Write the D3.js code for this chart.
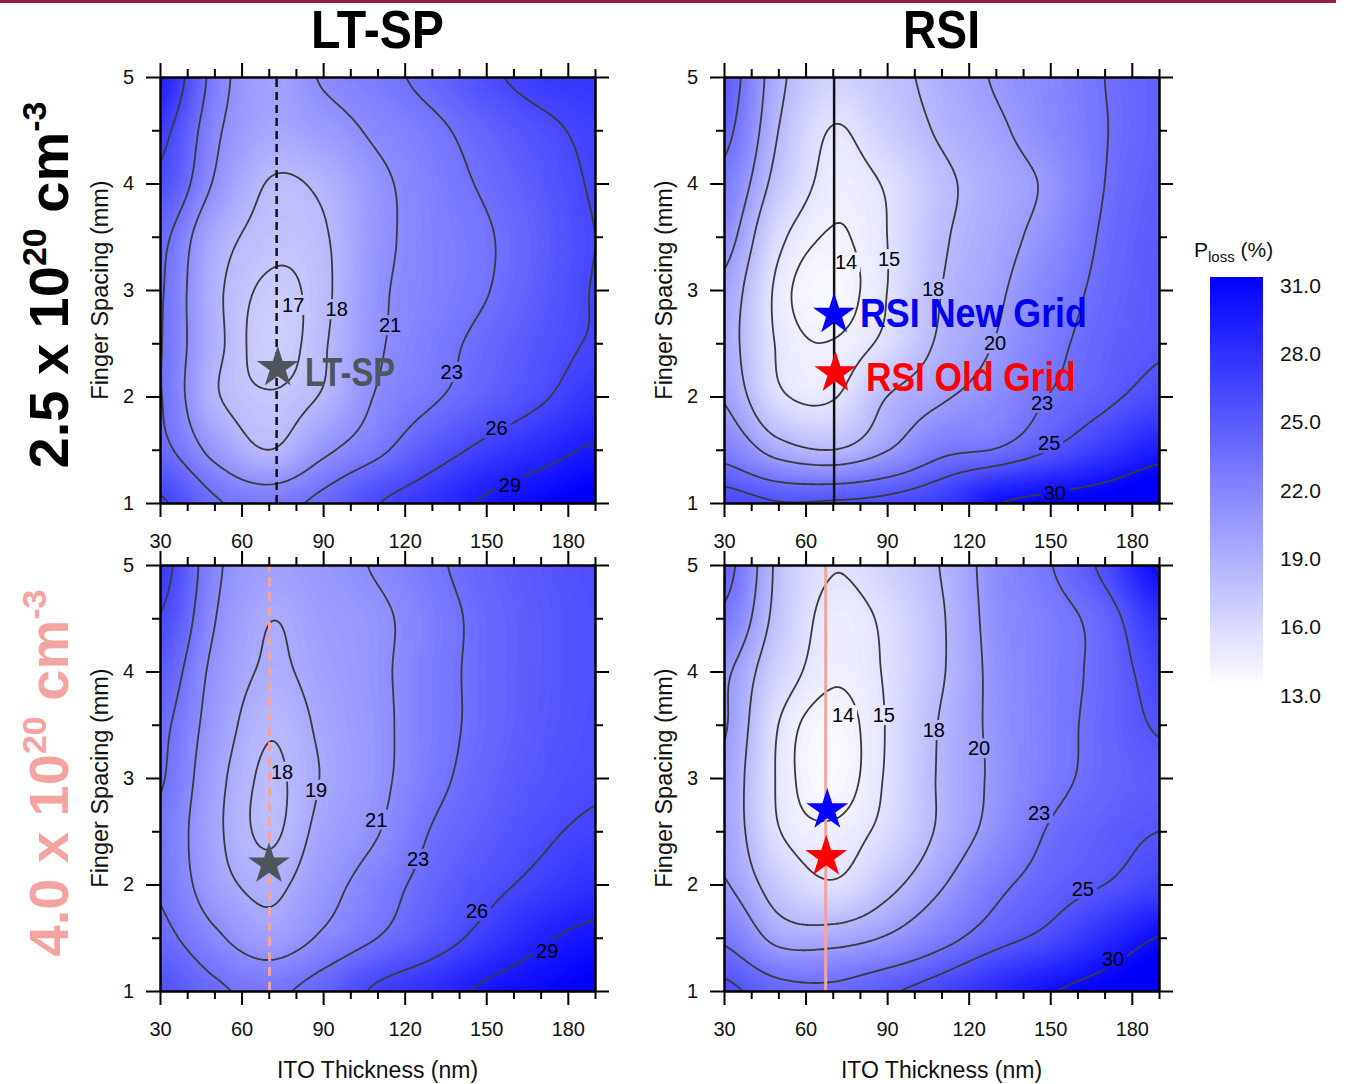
<!DOCTYPE html>
<html>
<head>
<meta charset="utf-8">
<script src="https://cdn.jsdelivr.net/npm/d3@7"></script>
<style>
  body { margin: 0; background: #fff; }
  text { font-family: "Liberation Sans", Arial, sans-serif; }
</style>
</head>
<body>
<svg id="chart" width="1347" height="1084"></svg>
<script>
const itoGrid = [30, 50, 70, 90, 110, 130, 150, 170, 190];
const spacingGrid = [5, 4.5, 4, 3.5, 3, 2.5, 2, 1.5, 1];

// P_loss (%) : one row per spacingGrid value, one column per itoGrid value
const lossLtsp25 = [
  [28.8, 22.2, 19.6, 21.2, 22.3, 23.7, 25.5, 26.8, 27.2],
  [26.8, 21.5, 19.3, 20.0, 21.4, 22.5, 24.0, 25.4, 26.5],
  [25.5, 20.8, 17.9, 18.4, 20.5, 22.0, 23.3, 24.7, 26.2],
  [23.6, 19.1, 17.4, 17.8, 20.4, 21.8, 22.8, 24.3, 26.0],
  [23.2, 18.5, 16.8, 17.6, 20.6, 21.8, 22.9, 24.5, 26.1],
  [23.1, 18.6, 16.5, 17.8, 20.7, 22.2, 23.6, 25.0, 26.2],
  [23.1, 18.3, 17.1, 18.2, 21.2, 22.7, 24.2, 25.7, 27.3],
  [23.6, 20.3, 18.0, 20.5, 22.5, 24.8, 26.6, 28.0, 29.3],
  [26.3, 23.3, 22.3, 23.6, 25.9, 27.5, 29.3, 30.5, 31.5]
];
const lossRsi25 = [
  [24.5, 18.6, 16.2, 17.3, 18.7, 20.2, 21.5, 23.0, 24.2],
  [23.7, 18.0, 14.9, 16.5, 18.3, 19.6, 21.2, 22.9, 24.2],
  [22.3, 17.1, 14.4, 15.2, 17.5, 19.0, 20.4, 23.0, 24.4],
  [21.0, 15.5, 13.9, 15.0, 17.7, 19.2, 20.9, 23.3, 24.6],
  [19.5, 14.6, 13.5, 15.0, 18.0, 19.6, 21.7, 23.6, 24.7],
  [19.0, 14.8, 14.05, 15.5, 18.4, 20.1, 22.3, 24.0, 24.8],
  [19.8, 15.4, 14.85, 18.0, 19.7, 21.1, 23.1, 24.5, 25.8],
  [22.0, 19.0, 18.0, 19.9, 22.4, 23.1, 25.0, 27.0, 29.0],
  [26.0, 25.1, 25.2, 25.6, 26.8, 29.8, 30.8, 31.5, 32.5]
];
const lossLtsp40 = [
  [27.0, 21.5, 19.8, 20.3, 21.2, 22.6, 23.9, 24.8, 25.6],
  [25.9, 21.1, 19.05, 19.9, 20.6, 22.1, 23.6, 24.6, 25.4],
  [24.5, 20.5, 18.8, 19.6, 20.6, 22.2, 23.6, 24.6, 25.4],
  [23.5, 20.1, 18.15, 19.3, 20.5, 22.2, 23.6, 24.7, 25.5],
  [23.2, 19.6, 17.8, 19.1, 20.5, 22.4, 23.9, 25.0, 25.7],
  [22.6, 19.4, 17.8, 19.5, 20.9, 23.1, 24.4, 25.6, 26.4],
  [22.8, 19.8, 18.6, 20.2, 22.0, 23.8, 25.3, 26.6, 27.6],
  [23.6, 21.4, 19.8, 21.3, 23.0, 24.8, 26.8, 28.6, 29.7],
  [25.3, 23.4, 22.6, 24.0, 26.4, 27.8, 29.4, 30.3, 31.3]
];
const lossRsi40 = [
  [24.0, 17.5, 15.1, 16.3, 18.1, 21.0, 22.9, 25.6, 30.2],
  [22.5, 17.2, 14.4, 15.4, 17.8, 20.8, 22.2, 23.9, 27.5],
  [20.4, 16.2, 14.2, 15.2, 17.8, 20.6, 22.2, 23.6, 26.0],
  [20.2, 15.0, 13.5, 15.1, 18.2, 20.5, 22.2, 23.7, 25.2],
  [19.6, 14.8, 13.4, 15.2, 18.3, 20.4, 22.3, 23.7, 24.5],
  [19.6, 15.1, 14.2, 15.6, 18.4, 20.8, 23.2, 24.3, 25.0],
  [20.2, 16.8, 15.2, 17.3, 19.8, 22.4, 24.0, 25.0, 26.3],
  [22.6, 19.3, 19.1, 20.2, 22.2, 24.2, 25.7, 28.0, 30.1],
  [25.5, 23.8, 23.5, 24.7, 26.0, 28.0, 29.8, 31.0, 32.0]
];

// contour levels drawn on each map
const levelsLtsp25 = [17, 18, 21, 23, 26, 29];
const levelsRsi25 = [14, 15, 18, 20, 23, 25, 30];
const levelsLtsp40 = [18, 19, 21, 23, 26, 29];
const levelsRsi40 = [14, 15, 18, 20, 23, 25, 30];

// contour labels : [level, ito, spacing]
const labelsLtsp25 = [[17, 79, 2.86], [18, 95, 2.82], [21, 114.6, 2.67], [23, 137.3, 2.23], [26, 153.8, 1.70], [29, 158.7, 1.17]];
const labelsRsi25 = [[14, 74.9, 3.26], [15, 90.7, 3.29], [18, 106.9, 3.01], [20, 129.7, 2.50], [23, 147.0, 1.94], [25, 149.6, 1.56], [30, 151.7, 1.09]];
const labelsLtsp40 = [[18, 74.9, 3.06], [19, 87.4, 2.89], [21, 109.5, 2.61], [23, 124.9, 2.24], [26, 146.6, 1.75], [29, 172.4, 1.38]];
const labelsRsi40 = [[14, 73.8, 3.59], [15, 88.8, 3.59], [18, 107.2, 3.45], [20, 123.8, 3.28], [23, 145.9, 2.67], [25, 162.0, 1.96], [30, 173.1, 1.30]];

// chosen designs : [ito, spacing]
const starLtsp25 = [73.3, 2.27];
const starsRsi25 = [[70.5, 2.77], [71.0, 2.22]];
const starLtsp40 = [70.1, 2.19];
const starsRsi40 = [[68.0, 2.70], [67.6, 2.26]];
const guideIto = [72.9, 70.5, 70.3, 67.4];

const xTicks = [30, 60, 90, 120, 150, 180];
const xMinor = [40, 50, 70, 80, 100, 110, 130, 140, 160, 170, 190];
const yTicks = [1, 2, 3, 4, 5];
const yMinor = [1.5, 2.5, 3.5, 4.5];
const cbTicks = [13, 16, 19, 22, 25, 28, 31];

const W = 435, H = 426;
const NX = 161, NY = 161;
const pink = "#f5a39f";
const narrow = '"Liberation Sans Narrow", "Arial Narrow", "DejaVu Sans Condensed", sans-serif';

const svg = d3.select("#chart");
const defs = svg.append("defs");
const color = d3.scaleLinear().domain([13, 31]).range(["#ffffff", "#0000ff"]).clamp(true);

svg.append("rect").attr("x", 0).attr("y", 0).attr("width", 1336).attr("height", 3).attr("fill", "#951d46");

// smooth resampling of the read grid for drawing
function catmull(p0, p1, p2, p3, t) {
  return p1 + 0.5 * t * (p2 - p0 + t * (2 * p0 - 5 * p1 + 4 * p2 - p3 + t * (3 * (p1 - p2) + p3 - p0)));
}
function sample(grid, fx, fy) {
  const nx = grid[0].length, ny = grid.length;
  const ix = Math.min(Math.floor(fx), nx - 2), iy = Math.min(Math.floor(fy), ny - 2);
  const tx = fx - ix, ty = fy - iy;
  const g = (i, j) => grid[Math.max(0, Math.min(ny - 1, j))][Math.max(0, Math.min(nx - 1, i))];
  const r = [];
  for (let j = iy - 1; j <= iy + 2; j++) r.push(catmull(g(ix - 1, j), g(ix, j), g(ix + 1, j), g(ix + 2, j), tx));
  return catmull(r[0], r[1], r[2], r[3], ty);
}
function upsample(grid) {
  const v = new Float64Array(NX * NY);
  for (let j = 0; j < NY; j++)
    for (let i = 0; i < NX; i++)
      v[j * NX + i] = sample(grid, i * (itoGrid.length - 1) / (NX - 1), j * (spacingGrid.length - 1) / (NY - 1));
  return v;
}

const panels = [
  {loss: lossLtsp25, levels: levelsLtsp25, labels: labelsLtsp25, left: 160, top: 77, guide: guideIto[0], guideColor: "#111", dash: "8,5",
   stars: [[starLtsp25, "#4e555c"]], notes: [["LT-SP", 83.3, 2.23, "#4e555c", 90]]},
  {loss: lossRsi25, levels: levelsRsi25, labels: labelsRsi25, left: 724, top: 77, guide: guideIto[1], guideColor: "#111", dash: null,
   stars: [[starsRsi25[0], "#0000ff"], [starsRsi25[1], "#ff0000"]],
   notes: [["RSI New Grid", 80.0, 2.78, "#0000f0", 227], ["RSI Old Grid", 82.2, 2.18, "#ff0000", 210]]},
  {loss: lossLtsp40, levels: levelsLtsp40, labels: labelsLtsp40, left: 160, top: 565, guide: guideIto[2], guideColor: pink, dash: "9,6",
   stars: [[starLtsp40, "#4e555c"]], notes: []},
  {loss: lossRsi40, levels: levelsRsi40, labels: labelsRsi40, left: 724, top: 565, guide: guideIto[3], guideColor: pink, dash: null,
   stars: [[starsRsi40[0], "#0000ff"], [starsRsi40[1], "#ff0000"]], notes: []}
];

const fillSteps = d3.range(10, 34, 0.2);
const x0 = itoGrid[0], sx = (itoGrid[itoGrid.length - 1] - itoGrid[0]) / (NX - 1);
const y0 = spacingGrid[0], sy = (spacingGrid[spacingGrid.length - 1] - spacingGrid[0]) / (NY - 1);

function styleAxis(g) {
  g.attr("font-size", 20).attr("font-family", '"Liberation Sans", Arial, sans-serif');
  g.selectAll(".domain").attr("stroke", "#000").attr("stroke-width", 2);
  g.selectAll(".tick line").attr("stroke", "#000").attr("stroke-width", 2);
  g.selectAll(".tick text").attr("fill", "#111");
}

panels.forEach((p, k) => {
  const x = d3.scaleLinear().domain([30, 190]).range([p.left, p.left + W]);
  const y = d3.scaleLinear().domain([1, 5]).range([p.top + H, p.top]);
  const proj = d3.geoTransform({
    point(cx, cy) { this.stream.point(x(x0 + (cx - 0.5) * sx), y(y0 + (cy - 0.5) * sy)); }
  });
  const path = d3.geoPath(proj);
  const values = upsample(p.loss);

  defs.append("clipPath").attr("id", "clip" + k)
    .append("rect").attr("x", p.left).attr("y", p.top).attr("width", W).attr("height", H);
  const mask = defs.append("mask").attr("id", "gap" + k).attr("maskUnits", "userSpaceOnUse")
    .attr("x", 0).attr("y", 0).attr("width", 1347).attr("height", 1084);
  mask.append("rect").attr("x", p.left).attr("y", p.top).attr("width", W).attr("height", H).attr("fill", "white");
  p.labels.forEach(([lv, lx, ly]) => {
    const w = String(lv).length * 11 + 6;
    mask.append("rect").attr("x", x(lx) - w / 2).attr("y", y(ly) - 10).attr("width", w).attr("height", 20).attr("fill", "black");
  });

  const plot = svg.append("g").attr("clip-path", `url(#clip${k})`);
  plot.append("g").selectAll("path")
    .data(d3.contours().size([NX, NY]).thresholds(fillSteps)(values))
    .join("path").attr("d", path).attr("fill", d => color(d.value + 0.1));

  plot.append("g").attr("mask", `url(#gap${k})`)
    .attr("fill", "none").attr("stroke", "#3a3a3a").attr("stroke-width", 1.8).attr("stroke-linejoin", "round")
    .selectAll("path")
    .data(d3.contours().size([NX, NY]).thresholds(p.levels)(values))
    .join("path").attr("d", path);

  plot.append("g").selectAll("text").data(p.labels).join("text")
    .attr("x", d => x(d[1])).attr("y", d => y(d[2]))
    .attr("text-anchor", "middle").attr("dominant-baseline", "central")
    .attr("font-size", 20).attr("fill", "#000").text(d => d[0]);

  plot.append("line")
    .attr("x1", x(p.guide)).attr("x2", x(p.guide)).attr("y1", y(1)).attr("y2", y(5))
    .attr("stroke", p.guideColor).attr("stroke-width", p.guideColor === pink ? 3 : 2.5)
    .attr("stroke-dasharray", p.dash);

  plot.append("g").selectAll("path").data(p.stars).join("path")
    .attr("transform", d => `translate(${x(d[0][0])},${y(d[0][1])})`)
    .attr("d", d3.symbol(d3.symbolStar, 545))
    .attr("fill", d => d[1]);

  p.notes.forEach(([txt, nx, ny, fill, len]) => {
    plot.append("text").attr("x", x(nx)).attr("y", y(ny))
      .attr("dominant-baseline", "central")
      .attr("font-family", narrow).attr("font-weight", "bold").attr("font-size", 40)
      .attr("textLength", len).attr("lengthAdjust", "spacingAndGlyphs")
      .attr("fill", fill).text(txt);
  });

  // axes on all four sides
  const gb = svg.append("g").attr("transform", `translate(0,${p.top + H})`);
  gb.append("g").call(d3.axisBottom(x).tickValues(xTicks).tickSize(14).tickPadding(17).tickSizeOuter(0)).call(styleAxis);
  gb.append("g").call(d3.axisBottom(x).tickValues(xMinor).tickSize(8).tickFormat("").tickSizeOuter(0)).call(styleAxis);
  const gt = svg.append("g").attr("transform", `translate(0,${p.top})`);
  gt.append("g").call(d3.axisTop(x).tickValues(xTicks).tickSize(14).tickFormat("").tickSizeOuter(0)).call(styleAxis);
  gt.append("g").call(d3.axisTop(x).tickValues(xMinor).tickSize(8).tickFormat("").tickSizeOuter(0)).call(styleAxis);
  const gl = svg.append("g").attr("transform", `translate(${p.left},0)`);
  gl.append("g").call(d3.axisLeft(y).tickValues(yTicks).tickFormat(d3.format("d")).tickSize(14).tickPadding(12).tickSizeOuter(0)).call(styleAxis);
  gl.append("g").call(d3.axisLeft(y).tickValues(yMinor).tickSize(8).tickFormat("").tickSizeOuter(0)).call(styleAxis);
  const gr = svg.append("g").attr("transform", `translate(${p.left + W},0)`);
  gr.append("g").call(d3.axisRight(y).tickValues(yTicks).tickSize(14).tickFormat("").tickSizeOuter(0)).call(styleAxis);
  gr.append("g").call(d3.axisRight(y).tickValues(yMinor).tickSize(8).tickFormat("").tickSizeOuter(0)).call(styleAxis);

  svg.append("text")
    .attr("transform", `translate(${p.left - 52},${p.top + H / 2}) rotate(-90)`)
    .attr("text-anchor", "middle").attr("font-size", 23.5).attr("fill", "#111")
    .text("Finger Spacing (mm)");
  if (p.top > 300) {
    svg.append("text").attr("x", p.left + W / 2).attr("y", 1078)
      .attr("text-anchor", "middle").attr("font-size", 23).attr("fill", "#111")
      .text("ITO Thickness (nm)");
  }
});

// column titles
[["LT-SP", 377.5, 133], ["RSI", 941.5, 77]].forEach(([t, cx, len]) => {
  svg.append("text").attr("x", cx).attr("y", 48).attr("text-anchor", "middle")
    .attr("font-family", narrow).attr("font-weight", "bold").attr("font-size", 53)
    .attr("textLength", len).attr("lengthAdjust", "spacingAndGlyphs").text(t);
});

// row titles (doping level)
[["2.5", 285, "#000"], ["4.0", 773, pink]].forEach(([n, cy, fill]) => {
  const t = svg.append("text")
    .attr("transform", `translate(68,${cy}) rotate(-90)`)
    .attr("text-anchor", "middle").attr("font-weight", "bold").attr("font-size", 56).attr("fill", fill);
  t.append("tspan").text(`${n} x 10`);
  t.append("tspan").attr("font-size", 34).attr("dy", -22).text("20");
  t.append("tspan").attr("dy", 22).text(" cm");
  t.append("tspan").attr("font-size", 34).attr("dy", -22).text("-3");
});

// colour bar
const cb = d3.scaleLinear().domain([13, 31]).range([687, 277]);
const grad = defs.append("linearGradient").attr("id", "cbgrad")
  .attr("x1", 0).attr("y1", 1).attr("x2", 0).attr("y2", 0);
cbTicks.forEach(v => grad.append("stop").attr("offset", (v - 13) / 18).attr("stop-color", color(v)));
svg.append("rect").attr("x", 1210).attr("y", cb(31)).attr("width", 53).attr("height", cb(13) - cb(31))
  .attr("fill", "url(#cbgrad)");
svg.append("g").selectAll("text").data(cbTicks).join("text")
  .attr("x", 1280).attr("y", d => cb(d) + 8).attr("dominant-baseline", "central")
  .attr("font-size", 21).attr("fill", "#111").text(d => d.toFixed(1));
const cbt = svg.append("text").attr("x", 1194).attr("y", 257).attr("font-size", 21).attr("fill", "#111");
cbt.append("tspan").text("P");
cbt.append("tspan").attr("font-size", 15).attr("dy", 5).text("loss");
cbt.append("tspan").attr("dy", -5).text(" (%)");
</script>
</body>
</html>
